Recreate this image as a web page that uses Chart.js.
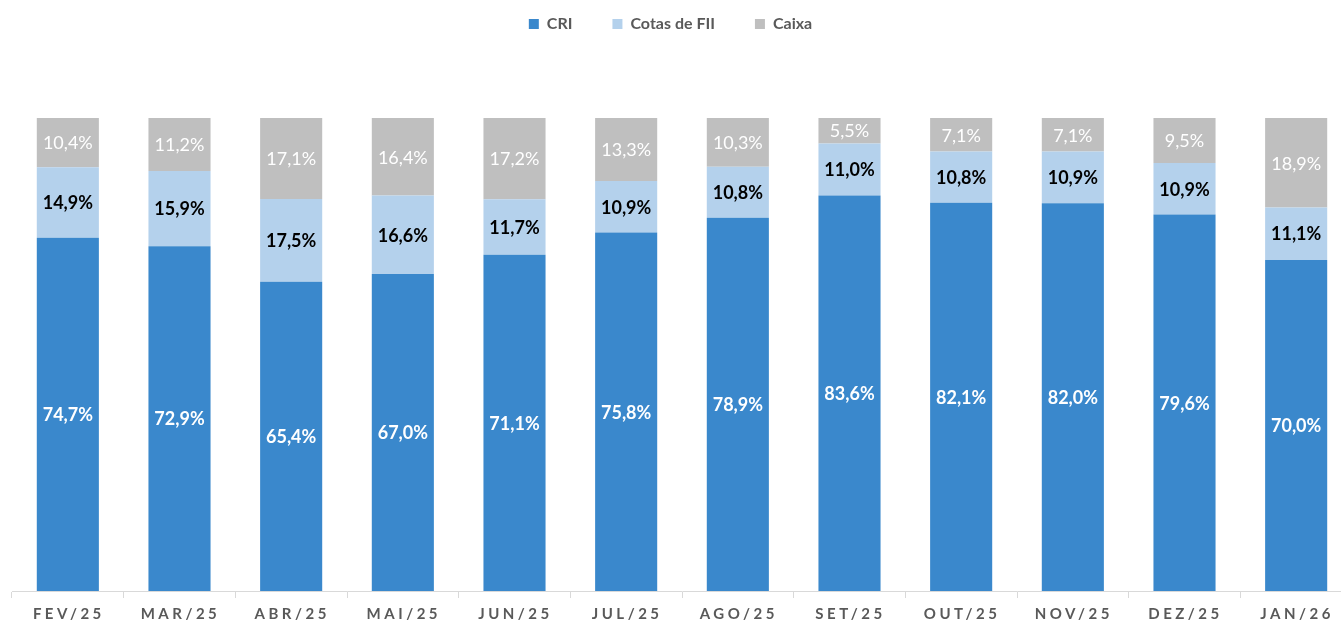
<!DOCTYPE html>
<html>
<head>
<meta charset="utf-8">
<script src="https://cdn.jsdelivr.net/npm/chart.js@4.4.1/dist/chart.umd.min.js"></script>
<style>
  html, body { margin: 0; padding: 0; background: #fff; overflow: hidden; }
  #wrap { width: 1352px; height: 623px; }
</style>
</head>
<body>
<div id="wrap"><canvas id="grafico" width="1352" height="623"></canvas></div>
<script>
// Meses (eixo X)
const meses = ["FEV/25", "MAR/25", "ABR/25", "MAI/25", "JUN/25", "JUL/25", "AGO/25", "SET/25", "OUT/25", "NOV/25", "DEZ/25", "JAN/26"];

// Composição da carteira (%)
const cri = [74.7, 72.9, 65.4, 67.0, 71.1, 75.8, 78.9, 83.6, 82.1, 82.0, 79.6, 70.0];
const cotasFii = [14.9, 15.9, 17.5, 16.6, 11.7, 10.9, 10.8, 11.0, 10.8, 10.9, 10.9, 11.1];
const caixa = [10.4, 11.2, 17.1, 16.4, 17.2, 13.3, 10.3, 5.5, 7.1, 7.1, 9.5, 18.9];

const FONTE = "Lato, 'Open Sans', sans-serif";

function formatarPct(v) {
    return v.toFixed(1).replace('.', ',') + '%';
}

// Rótulos dentro das barras
const rotulosBarras = {
    id: 'rotulosBarras',
    afterDatasetsDraw(chart) {
        const ctx = chart.ctx;
        chart.data.datasets.forEach((ds, i) => {
            const meta = chart.getDatasetMeta(i);
            meta.data.forEach((bar, j) => {
                ctx.save();
                ctx.fillStyle = ds.corRotulo;
                ctx.font = ds.pesoRotulo + ' 18px ' + FONTE;
                ctx.textAlign = 'center';
                ctx.textBaseline = 'middle';
                ctx.fillText(formatarPct(ds.data[j]), bar.x, (bar.y + bar.base) / 2 + 1);
                ctx.restore();
            });
        });
    }
};

// Ajustes de legenda e espaçamento das letras do eixo X
const ajustes = {
    id: 'ajustes',
    beforeInit(chart) {
        const fitOriginal = chart.legend.fit;
        chart.legend.fit = function () {
            fitOriginal.bind(chart.legend)();
            this.height = 118;
        };
    },
    afterLayout(chart) {
        const lg = chart.legend;
        lg.left = 0;
        lg.right = 1341;
        lg.width = 1341;
        lg.top = -24;
        const sx = chart.scales.x;
        if (!sx._espacado) {
            const desenhar = sx.drawLabels.bind(sx);
            sx.drawLabels = function (area) {
                chart.ctx.save();
                chart.ctx.letterSpacing = '3.5px';
                chart.ctx.translate(1, 0);
                desenhar(area);
                chart.ctx.restore();
            };
            sx._espacado = true;
        }
    }
};

new Chart(document.getElementById('grafico'), {
    type: 'bar',
    data: {
        labels: meses,
        datasets: [
            { label: 'CRI', data: cri, backgroundColor: '#3A88CC', corRotulo: '#ffffff', pesoRotulo: 'bold' },
            { label: 'Cotas de FII', data: cotasFii, backgroundColor: '#B4D1EC', corRotulo: '#000000', pesoRotulo: 'bold' },
            { label: 'Caixa', data: caixa, backgroundColor: '#BFBFBF', corRotulo: '#ffffff', pesoRotulo: 'normal' }
        ]
    },
    options: {
        responsive: false,
        animation: false,
        layout: { padding: { left: 12, right: 0, top: 0, bottom: -7 } },
        datasets: {
            bar: { categoryPercentage: 1, barPercentage: 0.556 }
        },
        plugins: {
            tooltip: { enabled: false },
            legend: {
                position: 'top',
                labels: {
                    boxWidth: 10,
                    boxHeight: 10,
                    padding: 40,
                    color: '#595959',
                    font: { family: FONTE, size: 16, weight: 'bold' }
                }
            }
        },
        scales: {
            x: {
                stacked: true,
                grid: { drawOnChartArea: false, drawTicks: true, tickLength: 7, color: '#D9D9D9' },
                border: { color: '#D9D9D9', width: 1 },
                ticks: {
                    color: '#595959',
                    padding: 7,
                    maxRotation: 0,
                    font: { family: FONTE, size: 15, weight: 'bold' }
                }
            },
            y: {
                stacked: true,
                display: false,
                min: 0,
                max: 100
            }
        }
    },
    plugins: [rotulosBarras, ajustes]
});
</script>
</body>
</html>
